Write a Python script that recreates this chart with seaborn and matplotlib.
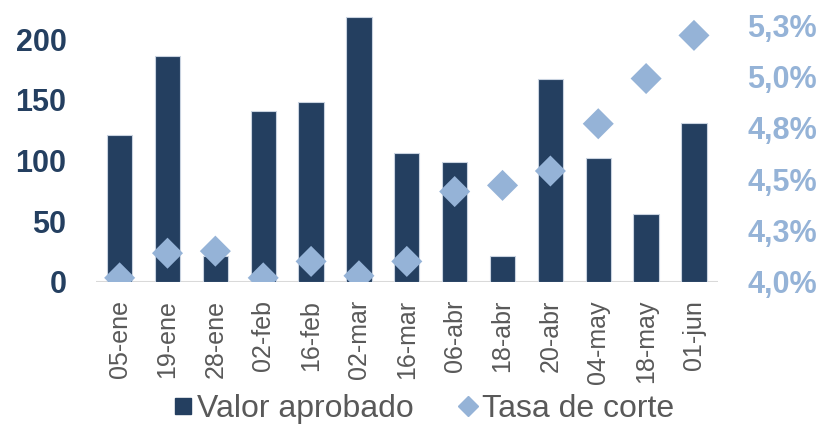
import matplotlib
matplotlib.use("Agg")
import matplotlib.pyplot as plt
from matplotlib.lines import Line2D
from matplotlib.ticker import FuncFormatter, MultipleLocator
import pandas as pd
import seaborn as sns

# datos
fechas = ["05-ene", "19-ene", "28-ene", "02-feb", "16-feb", "02-mar", "16-mar",
          "06-abr", "18-abr", "20-abr", "04-may", "18-may", "01-jun"]
valor_aprobado = [121, 186, 21, 141, 148, 218, 106, 99, 21, 167, 102, 56, 131]
tasa_corte = [4.02, 4.14, 4.15, 4.02, 4.10, 4.03, 4.10, 4.44, 4.47, 4.54, 4.77, 4.99, 5.20]

navy = "#243F60"
celeste = "#95B3D7"
gris = "#595959"

sns.set_theme(style="white")
plt.rcParams["font.family"] = ["Liberation Sans", "DejaVu Sans"]

df = pd.DataFrame({"fecha": fechas, "valor": valor_aprobado, "tasa": tasa_corte})
df["pos"] = range(len(df))

fig = plt.figure(figsize=(8.23, 4.24), dpi=100)
ax = fig.add_axes([0.1163, 0.335, 0.756, 0.630])

sns.barplot(data=df, x="fecha", y="valor", color=navy, saturation=1, width=0.53,
            edgecolor="#c9d3e0", linewidth=0.8, ax=ax)
ax.axhline(0, color="#d9d9d9", lw=1.5, zorder=0.5)

ax2 = ax.twinx()
sns.scatterplot(data=df, x="pos", y="tasa", marker="D", s=250, color=celeste,
                edgecolor="none", linewidth=0, ax=ax2, legend=False)

ax.set_xlim(-0.5, len(fechas) - 0.5)
ax.set_ylim(0, 220)
ax.yaxis.set_major_locator(MultipleLocator(50))
ax2.set_ylim(4.0, 5.3)
ax2.yaxis.set_major_locator(MultipleLocator(0.25))
ax2.yaxis.set_major_formatter(FuncFormatter(lambda v, p: f"{v + 1e-9:.1f}%".replace(".", ",")))

for a in (ax, ax2):
    a.set_xlabel("")
    a.set_ylabel("")
    for s in a.spines.values():
        s.set_visible(False)

ax.tick_params(axis="y", length=0, pad=21, labelsize=22, labelcolor=navy)
ax2.tick_params(axis="y", length=0, pad=21, labelsize=22, labelcolor=celeste)
ax.tick_params(axis="x", length=0, pad=13, labelsize=18, labelcolor=gris, rotation=90)
for t in ax.get_yticklabels() + ax2.get_yticklabels():
    t.set_fontweight("bold")

handles = [Line2D([], [], marker="s", ls="", color=navy, markersize=12),
           Line2D([], [], marker="D", ls="", color=celeste, markersize=10)]
fig.legend(handles, ["Valor aprobado", "Tasa de corte"], loc="center",
           bbox_to_anchor=(0.515, 0.036), ncol=2, frameon=False, fontsize=23,
           handlelength=0.6, handletextpad=0.15, columnspacing=1.4,
           labelcolor=gris)

fig.savefig("out.png", dpi=100)
